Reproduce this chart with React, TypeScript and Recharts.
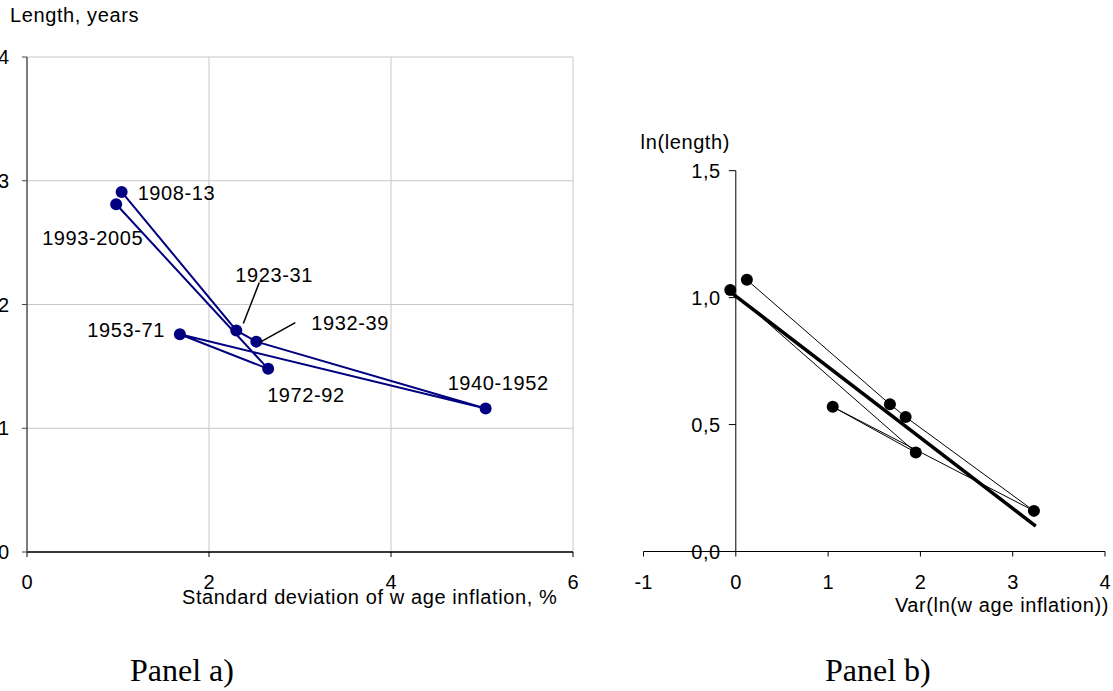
import React from 'react';
import { ScatterChart, Scatter, XAxis, YAxis, CartesianGrid, ReferenceLine } from 'recharts';

// ---------- data ----------
const periods = ['1908-13', '1923-31', '1932-39', '1940-1952', '1953-71', '1972-92', '1993-2005'];
const stdDevWageInflation = [1.04, 2.3, 2.52, 5.04, 1.68, 2.65, 0.98];
const lengthYears = [2.91, 1.79, 1.7, 1.16, 1.76, 1.48, 2.81];
const varLnWageInflation = [0.12, 1.67, 1.84, 3.23, 1.05, 1.95, -0.06];
const lnLength = [1.07, 0.58, 0.53, 0.16, 0.57, 0.39, 1.03];
const fitX = [-0.05, 3.25];
const fitY = [1.02, 0.1];

const xTicksA = [0, 2, 4, 6];
const yTicksA = [0, 1, 2, 3, 4];
const xTicksB = [-1, 0, 1, 2, 3, 4];
const yTicksB = [0, 0.5, 1, 1.5];

const dataA = periods.map((p, i) => ({ x: stdDevWageInflation[i], y: lengthYears[i], period: p }));
const dataB = periods.map((p, i) => ({ x: varLnWageInflation[i], y: lnLength[i], period: p }));
const fitData = fitX.map((x, i) => ({ x, y: fitY[i] }));

// ---------- styles ----------
const SANS = '"Liberation Sans", Arial, sans-serif';
const SERIF = '"Liberation Serif", "Times New Roman", serif';
const FS = 20;
const LS = 0.6;
const NAVY = '#000080';

type Place = { dx: number; dy: number; anchor: 'start' | 'end'; leader?: [number, number, number, number] };
const labelPlacement: Record<string, Place> = {
  '1908-13': { dx: 16, dy: 1, anchor: 'start' },
  '1993-2005': { dx: 27, dy: 34, anchor: 'end' },
  '1923-31': { dx: -1, dy: -56, anchor: 'start', leader: [7, -7, 23, -48] },
  '1932-39': { dx: 55, dy: -19, anchor: 'start', leader: [3, 1, 39, -19] },
  '1940-1952': { dx: -38, dy: -26, anchor: 'start' },
  '1953-71': { dx: -15, dy: -4, anchor: 'end' },
  '1972-92': { dx: -1, dy: 26, anchor: 'start' },
};

const PointA = (props: any) => {
  const { cx, cy, payload } = props;
  const pl = labelPlacement[payload.period];
  return (
    <g>
      <circle cx={cx} cy={cy} r={6} fill={NAVY} />
      {pl && pl.leader && (
        <line
          x1={cx + pl.leader[0]}
          y1={cy + pl.leader[1]}
          x2={cx + pl.leader[2]}
          y2={cy + pl.leader[3]}
          stroke="#000"
          strokeWidth={1.5}
        />
      )}
      {pl && (
        <text
          x={cx + pl.dx}
          y={cy + pl.dy}
          dy="0.36em"
          textAnchor={pl.anchor}
          fontFamily={SANS}
          fontSize={FS}
          letterSpacing={LS}
          fill="#000"
        >
          {payload.period}
        </text>
      )}
    </g>
  );
};

const PointB = (props: any) => <circle cx={props.cx} cy={props.cy} r={6} fill="#000" />;
const NoPoint = () => <g />;

// Panel b geometry (y axis drawn at x = 0 inside the plot)
const B_LEFT = 43.5;
const B_WIDTH = 513;
const B_RIGHT = 8;
const B_PLOT_W = B_WIDTH - B_LEFT - B_RIGHT;
const B_XMIN = -1;
const B_XMAX = 4;
const zeroShift = (B_PLOT_W * (0 - B_XMIN)) / (B_XMAX - B_XMIN);

const fmtComma = (v: number) => v.toFixed(1).replace('.', ',');

const BYTick = (p: any) => {
  const zx = p.x + zeroShift;
  return (
    <g>
      <line x1={zx - 7} x2={zx} y1={p.y} y2={p.y} stroke="#000" strokeWidth={1} />
      <text
        x={zx - 15}
        y={p.y}
        dy="0.36em"
        textAnchor="end"
        fontFamily={SANS}
        fontSize={FS}
        letterSpacing={LS}
        fill="#000"
      >
        {fmtComma(p.payload.value)}
      </text>
    </g>
  );
};

const tickStyle = { fill: '#000', fontSize: FS, fontFamily: SANS };

export default function App() {
  return (
    <div style={{ position: 'absolute', left: 0, top: 0, width: 1113, height: 691, background: '#fff', overflow: 'hidden' }}>
      {/* Panel a */}
      <div style={{ position: 'absolute', left: 0, top: 0 }}>
        <ScatterChart width={600} height={620} margin={{ top: 57, right: 27, left: 0, bottom: 28 }}>
          <CartesianGrid stroke="#c8c8c8" strokeWidth={1} />
          <XAxis
            type="number"
            dataKey="x"
            domain={[0, 6]}
            ticks={xTicksA}
            interval={0}
            height={40}
            axisLine={{ stroke: '#000', strokeWidth: 1.3 }}
            tickLine={{ stroke: '#000' }}
            tickSize={5}
            tickMargin={18}
            tick={tickStyle}
          />
          <YAxis
            type="number"
            dataKey="y"
            domain={[0, 4]}
            ticks={yTicksA}
            interval={0}
            width={27}
            axisLine={{ stroke: '#444', strokeWidth: 1.3 }}
            tickLine={{ stroke: '#444' }}
            tickSize={5}
            tickMargin={13}
            tick={tickStyle}
          />
          <Scatter
            data={dataA}
            line={{ stroke: NAVY, strokeWidth: 2 }}
            lineType="joint"
            shape={PointA}
            isAnimationActive={false}
          />
        </ScatterChart>
      </div>

      {/* Panel b */}
      <div style={{ position: 'absolute', left: 600, top: 0 }}>
        <ScatterChart width={B_WIDTH} height={620} margin={{ top: 170.7, right: B_RIGHT, left: 0, bottom: 28.5 }}>
          <XAxis
            type="number"
            dataKey="x"
            domain={[B_XMIN, B_XMAX]}
            ticks={xTicksB}
            interval={0}
            height={40}
            axisLine={{ stroke: '#000', strokeWidth: 1 }}
            tickLine={{ stroke: '#000' }}
            tickSize={5}
            tickMargin={18.5}
            tick={tickStyle}
          />
          <YAxis
            type="number"
            dataKey="y"
            domain={[0, 1.5]}
            ticks={yTicksB}
            interval={0}
            width={B_LEFT}
            axisLine={false}
            tickLine={false}
            tickSize={0}
            tickMargin={0}
            tick={BYTick}
          />
          <ReferenceLine x={0} stroke="#000" strokeWidth={1} />
          <Scatter
            data={dataB}
            line={{ stroke: '#000', strokeWidth: 1 }}
            lineType="joint"
            shape={PointB}
            isAnimationActive={false}
          />
          <Scatter
            data={fitData}
            line={{ stroke: '#000', strokeWidth: 3.5 }}
            lineType="joint"
            shape={NoPoint}
            isAnimationActive={false}
          />
        </ScatterChart>
      </div>

      {/* titles */}
      <svg width={1113} height={691} style={{ position: 'absolute', left: 0, top: 0, pointerEvents: 'none' }}>
        <text x={10} y={22} fontFamily={SANS} fontSize={FS} letterSpacing={LS} fill="#000">
          Length, years
        </text>
        <text x={182} y={604} fontFamily={SANS} fontSize={FS} letterSpacing={LS} fill="#000">
          Standard deviation of w age inflation, %
        </text>
        <text x={730} y={149} textAnchor="end" fontFamily={SANS} fontSize={FS} letterSpacing={LS} fill="#000">
          ln(length)
        </text>
        <text x={1109} y={612} textAnchor="end" fontFamily={SANS} fontSize={FS} letterSpacing={LS} fill="#000">
          Var(ln(w age inflation))
        </text>
        <text x={130} y={681} fontFamily={SERIF} fontSize={32} fill="#000">
          Panel a)
        </text>
        <text x={825} y={681} fontFamily={SERIF} fontSize={32} fill="#000">
          Panel b)
        </text>
      </svg>
    </div>
  );
}
